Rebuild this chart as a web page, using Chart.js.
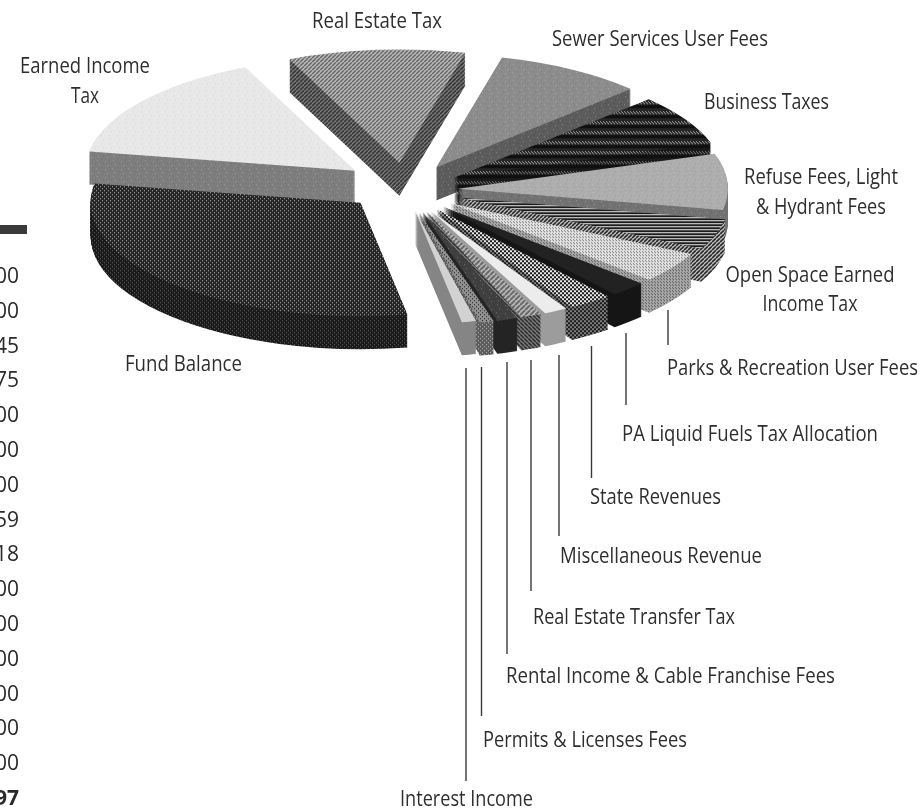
<!DOCTYPE html>
<html><head><meta charset="utf-8">
<style>html,body{margin:0;padding:0;background:#fff;overflow:hidden}canvas{display:block}</style>
<script src="https://cdn.jsdelivr.net/npm/chart.js@4"></script>
</head><body>
<canvas id="c" width="922" height="810"></canvas>
<script>
// ---- data (share of revenue, %) ----
const categories = ["Fund Balance","Earned Income Tax","Real Estate Tax","Sewer Services User Fees","Business Taxes",
 "Refuse Fees, Light & Hydrant Fees","Open Space Earned Income Tax","Parks & Recreation User Fees","PA Liquid Fuels Tax Allocation",
 "State Revenues","Miscellaneous Revenue","Real Estate Transfer Tax","Rental Income & Cable Franchise Fees","Permits & Licenses Fees","Interest Income"];
const shares = [30.5,15.6,10.6,8.9,7.2,8,4.4,4.4,2.2,2.6,1.4,1.25,1.25,0.85,0.85];
const tableCells = ["00","00","45","75","00","00","00","59","18","00","00","00","00","00","00","97"];

// ---- presentation ----
const explode = [63,63,65,62,57,53,58,55,55,55,55,55,55,55,50];
const lift = [-6,-3,0,0,0,0,0,0,0,0,0,0,0,0,0];
const TILT = 0.42, DEPTH = 33, RADIUS = 270;
const labelPlacement = [
 ["Fund Balance",125,365,117,"l"],["Earned Income",85,67,130,"c"],["Tax",85,97,28,"c"],["Real Estate Tax",312,22,130,"l"],
 ["Sewer Services User Fees",552,40,216,"l"],["Business Taxes",704,103,125,"l"],["Refuse Fees, Light",821,178,154,"c"],
 ["& Hydrant Fees",821,208,130,"c"],["Open Space Earned",810,276,169,"c"],["Income Tax",810,305,95,"c"],
 ["Parks & Recreation User Fees",667,369,251,"l"],["PA Liquid Fuels Tax Allocation",622,435,256,"l"],["State Revenues",590,498,131,"l"],
 ["Miscellaneous Revenue",560,557,202,"l"],["Real Estate Transfer Tax",533,618,202,"l"],
 ["Rental Income & Cable Franchise Fees",506,677,329,"l"],["Permits & Licenses Fees",483,741,204,"l"],["Interest Income",400,800,133,"l"]];
const leaders = [[668,310,345],[626,333,405],[591.5,346,478],[559,355,536],[531,360,591],[507,362,654],[481.5,367,716],[466,368,781]];

function tile(w,h,paint){
  const c=document.createElement('canvas');c.width=w;c.height=h;
  paint(c.getContext('2d'));
  const p=document.createElement('canvas').getContext('2d').createPattern(c,'repeat');
  p.setTransform(new DOMMatrix().scale(1,1/TILT));
  return p;
}
const solid=(b)=>tile(2,2,g=>{g.fillStyle=b;g.fillRect(0,0,2,2)});
function grain(b,d){ return tile(16,16,g=>{g.fillStyle=b;g.fillRect(0,0,16,16);
  const pts=[[1,2],[5,0],[9,3],[13,1],[3,6],[7,5],[11,7],[15,5],[0,10],[5,9],[9,11],[13,9],[2,14],[7,13],[11,15],[14,12]];
  pts.forEach((q,i)=>{g.fillStyle=i%2?d:'rgba(255,255,255,.25)';g.fillRect(q[0],q[1],1,1)});});}
function diag(n,a,b,dir){ return tile(n,n,g=>{g.fillStyle=a;g.fillRect(0,0,n,n);g.strokeStyle=b;g.lineWidth=n/2.4;
  for(let i=-n;i<=2*n;i+=n){g.beginPath();if(dir>0){g.moveTo(i,n);g.lineTo(i+n,0);}else{g.moveTo(i,0);g.lineTo(i+n,n);}g.stroke();}});}
function dots(n,a,b,s){ return tile(n,n,g=>{g.fillStyle=a;g.fillRect(0,0,n,n);g.fillStyle=b;g.fillRect(0,0,s,s);g.fillRect(Math.floor(n/2),Math.floor(n/2),s,s);});}
function rows(n,a,b){ return tile(2,n,g=>{g.fillStyle=a;g.fillRect(0,0,2,n);g.fillStyle=b;g.fillRect(0,0,2,Math.round(n/2));});}
const business=(a,b)=>tile(6,10,g=>{g.fillStyle=a;g.fillRect(0,0,6,10);g.fillStyle='#0f0f0f';g.fillRect(0,5,6,3);g.fillStyle=b;for(let x=0;x<6;x+=3){g.fillRect(x,1,1,1);g.fillRect(x+1,2,1,1);g.fillRect(x+2,3,1,1);}});

const tops=[dots(4,'#262626','#b4b4b4',1),grain('#e8e8e8','#d6d6d6'),diag(4,'#cfcfcf','#666',1),grain('#8c8c8c','#7a7a7a'),
 business('#262626','#a8a8a8'),grain('#adadad','#9c9c9c'),rows(3,'#eeeeee','#1c1c1c'),dots(3,'#e2e2e2','#777',1),
 solid('#222222'),dots(4,'#e8e8e8','#1c1c1c',2),solid('#ececec'),diag(5,'#c4c4c4','#666',1),grain('#404040','#333'),dots(4,'#909090','#222',1),solid('#d2d2d2')];
const walls=[dots(4,'#1a1a1a','#646464',1),grain('#7e7e7e','#6e6e6e'),diag(4,'#8a8a8a','#303030',1),grain('#5c5c5c','#4c4c4c'),
 business('#1a1a1a','#808080'),grain('#727272','#626262'),diag(4,'#e0e0e0','#1c1c1c',1),dots(3,'#a8a8a8','#555',1),
 solid('#151515'),dots(4,'#808080','#1a1a1a',2),solid('#9c9c9c'),diag(4,'#8c8c8c','#2c2c2c',-1),solid('#242424'),dots(4,'#5c5c5c','#bbb',1),solid('#858585')];

function drawArcElem(arc,i,ctx,fill,dy){
  const o=arc.options,x=arc.x,y=arc.y,t=Object.create(o);
  const mid=(arc.startAngle+arc.endAngle)/2;
  // apply the explode distance directly so thin slices keep their full angular width
  t.backgroundColor=fill;t.borderWidth=0;t.offset=0;arc.options=t;
  arc.x=x+Math.cos(mid)*explode[i];arc.y=y+Math.sin(mid)*explode[i]+dy+lift[i]/TILT;
  arc.draw(ctx);
  arc.options=o;arc.x=x;arc.y=y;
}
const pie3d={id:'pie3d',
  beforeDatasetsDraw(chart){
    const ctx=chart.ctx,arcs=chart.getDatasetMeta(0).data;
    const order=arcs.map((a,i)=>i).sort((p,q)=>{
      const m=a=>Math.sin((a.startAngle+a.endAngle)/2);return m(arcs[p])-m(arcs[q]);});
    const cy=arcs[0].y;
    ctx.save();ctx.translate(0,cy);ctx.scale(1,TILT);ctx.translate(0,-cy);
    order.forEach(i=>{
      for(let d=DEPTH;d>0;d--) drawArcElem(arcs[i],i,ctx,walls[i],d/TILT);
      drawArcElem(arcs[i],i,ctx,tops[i],0);
    });
    ctx.restore();
    return false;
  },
  afterDraw(chart){
    const ctx=chart.ctx;ctx.save();
    ctx.fillStyle='#2e2e2e';ctx.textBaseline='middle';
    ctx.font='21px "Open Sans"';
    labelPlacement.forEach(([s,x,y,w,al])=>{
      const m=ctx.measureText(s).width,sx=w/m;
      ctx.save();ctx.translate(al==='c'?x-w/2:x,y);ctx.scale(sx,1);ctx.textAlign='left';ctx.fillText(s,0,0);ctx.restore();
    });
    ctx.strokeStyle='#3a3a3a';ctx.lineWidth=1.4;
    leaders.forEach(([x,a,b])=>{ctx.beginPath();ctx.moveTo(x,a);ctx.lineTo(x,b);ctx.stroke();});
    ctx.fillStyle='#3a3a3a';ctx.fillRect(0,225,27,9);
    ctx.fillStyle='#2a2a2a';ctx.textAlign='right';
    tableCells.forEach((s,i)=>{ctx.font=(i===tableCells.length-1?'bold ':'')+'21px "Open Sans"';ctx.fillText(s,19,277+i*34.8);});
    ctx.restore();
  }};
new Chart(document.getElementById('c'),{
  type:'pie',
  data:{labels:categories,datasets:[{data:shares,backgroundColor:tops,borderWidth:0,offset:explode.map(v=>v*4)}]},
  options:{responsive:false,animation:false,rotation:170,radius:RADIUS,
    layout:{padding:{left:0,top:0,right:112,bottom:430}},
    plugins:{legend:{display:false},tooltip:{enabled:false},title:{display:false}}},
  plugins:[pie3d]
});
</script>
</body></html>
